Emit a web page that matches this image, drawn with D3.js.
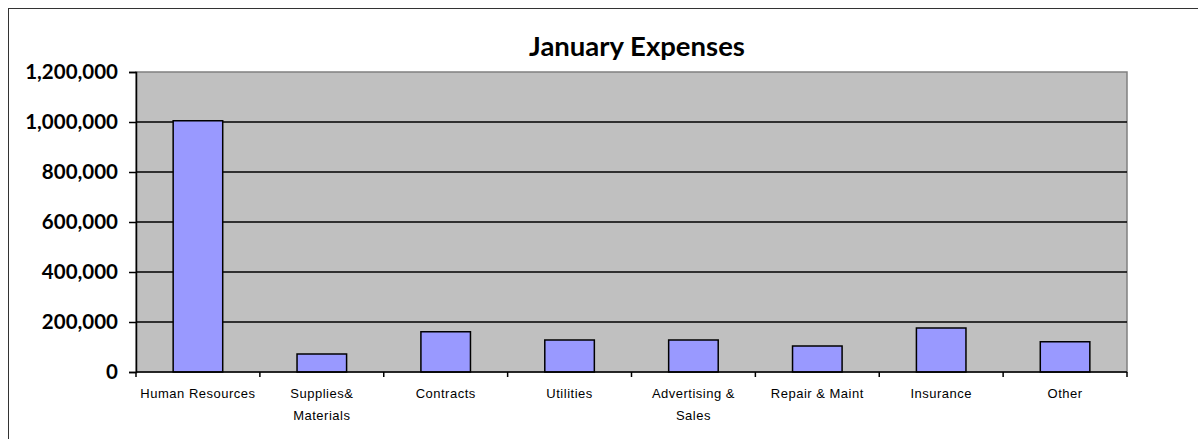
<!DOCTYPE html>
<html>
<head>
<meta charset="utf-8">
<script src="https://cdn.jsdelivr.net/npm/d3@7"></script>
<style>
  body { margin: 0; background: #fff; }
  svg { display: block; }
  .yaxis text { font-family: Lato, "Open Sans", sans-serif; font-weight: bold; font-size: 20.5px; }
  .xlabel { font-family: "Liberation Sans", Arial, sans-serif; font-size: 13px; letter-spacing: 0.5px; }
</style>
</head>
<body>
<div id="chart"></div>
<script>
const categories = ['Human Resources', 'Supplies& Materials', 'Contracts', 'Utilities',
  'Advertising & Sales', 'Repair & Maint', 'Insurance', 'Other'];
// label lines as they wrap in the picture
const labelLines = [['Human Resources'], ['Supplies&', 'Materials'], ['Contracts'], ['Utilities'],
  ['Advertising &', 'Sales'], ['Repair & Maint'], ['Insurance'], ['Other']];
const values = [1005000, 72000, 161000, 128000, 128000, 104000, 176000, 121000];
const yTicks = [0, 200000, 400000, 600000, 800000, 1000000, 1200000];

const width = 1198, height = 439;
const margin = [72, 71, 67, 136]; // top, right, bottom, left

const svg = d3.select('#chart').append('svg')
  .attr('width', width).attr('height', height);

// outer chart frame (runs off the right and bottom edge)
svg.append('rect')
  .attr('x', 8.5).attr('y', 8.5)
  .attr('width', 1300).attr('height', 600)
  .attr('fill', 'none').attr('stroke', '#333').attr('stroke-width', 1);

const chartWidth = width - margin[3] - margin[1];
const chartHeight = height - margin[0] - margin[2];

const bandX = d3.scaleBand().domain(categories).range([0, chartWidth]);
const scaleY = d3.scaleLinear().domain([0, 1200000]).range([chartHeight, 0]);

const chart = svg.append('g')
  .attr('transform', `translate(${margin[3]},${margin[0]})`);

// plot background
chart.append('rect')
  .attr('width', chartWidth).attr('height', chartHeight)
  .attr('fill', '#c0c0c0').attr('stroke', '#808080').attr('stroke-width', 1.5);

// gridlines
chart.selectAll('.grid')
  .data(yTicks.filter(d => d > 0 && d < 1200000))
  .join('line')
  .attr('x1', 0).attr('x2', chartWidth)
  .attr('y1', d => scaleY(d)).attr('y2', d => scaleY(d))
  .attr('stroke', '#000').attr('stroke-width', 1.5);

// bars, 40% of the category band
chart.selectAll('.bar')
  .data(values)
  .join('rect')
  .attr('x', (d, i) => bandX(categories[i]) + bandX.bandwidth() * 0.3)
  .attr('width', bandX.bandwidth() * 0.4)
  .attr('y', d => scaleY(d))
  .attr('height', d => chartHeight - scaleY(d))
  .attr('fill', '#9999ff').attr('stroke', '#000').attr('stroke-width', 1.5);

// y axis
const axisY = chart.append('g').classed('yaxis', true)
  .call(d3.axisLeft(scaleY).tickValues(yTicks).tickFormat(d3.format(',')).tickSize(7).tickPadding(11));
axisY.select('.domain').attr('stroke', '#000').attr('stroke-width', 1.5);
axisY.selectAll('.tick line').attr('stroke', '#000').attr('stroke-width', 1.5);
axisY.selectAll('text').attr('fill', '#000');

// x axis: ticks on category boundaries
const axisX = chart.append('g')
  .attr('transform', `translate(0,${chartHeight})`);
axisX.append('line')
  .attr('x1', 0).attr('x2', chartWidth)
  .attr('stroke', '#000').attr('stroke-width', 1.5);
axisX.selectAll('.xtick')
  .data(categories.map(c => bandX(c)).concat([chartWidth]))
  .join('line')
  .attr('x1', d => d).attr('x2', d => d)
  .attr('y1', 0).attr('y2', 5)
  .attr('stroke', '#000').attr('stroke-width', 1.5);

const labels = axisX.selectAll('.xlabel')
  .data(labelLines)
  .join('text')
  .classed('xlabel', true)
  .attr('text-anchor', 'middle')
  .attr('transform', (d, i) => `translate(${bandX(categories[i]) + bandX.bandwidth() / 2},26)`);
labels.selectAll('tspan')
  .data(d => d)
  .join('tspan')
  .attr('x', 0)
  .attr('y', (d, i) => i * 22)
  .text(d => d);

// title
svg.append('text')
  .attr('x', 637).attr('y', 56)
  .attr('text-anchor', 'middle')
  .style('font-family', 'Lato, "Open Sans", sans-serif')
  .style('font-weight', 'bold')
  .style('font-size', '27.5px')
  .text('January Expenses');
</script>
</body>
</html>
